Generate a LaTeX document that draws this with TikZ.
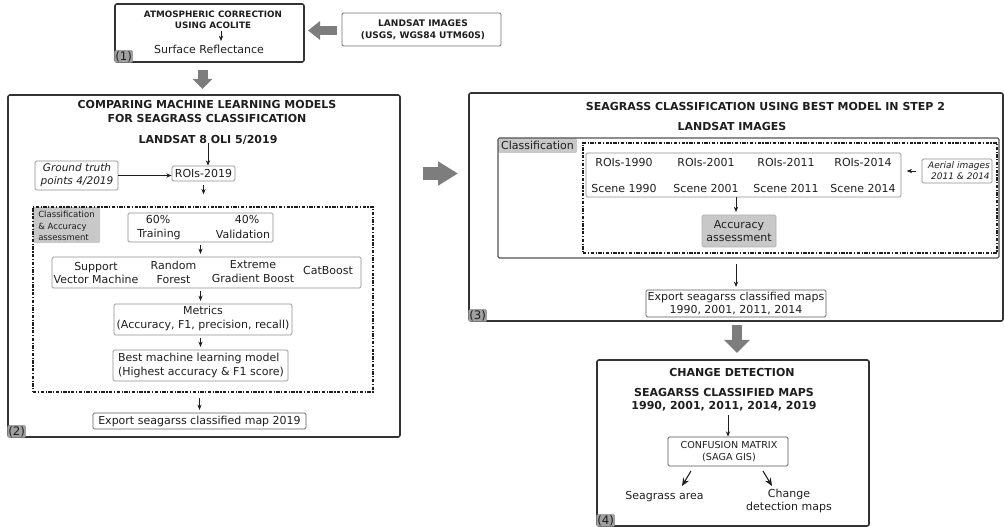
\documentclass[tikz,border=0pt]{standalone}
\usepackage{fontspec}
\setmainfont{DejaVu Sans}
\usetikzlibrary{arrows.meta,fit}

\definecolor{ink}{HTML}{1E1E1E}
\definecolor{frame}{HTML}{333333}
\definecolor{thin}{HTML}{8F8F8F}
\definecolor{shade}{HTML}{C8C8C8}
\definecolor{tag}{HTML}{A0A0A0}
\definecolor{bigarrow}{HTML}{7D7D7D}

\tikzset{
  outer/.style={draw=frame, line width=1.2pt, rounded corners=1.5pt, inner sep=0pt},
  inner/.style={draw=thin, line width=0.6pt, rounded corners=1pt, inner sep=0pt},
  darkbox/.style={draw=frame!85, line width=0.8pt, rounded corners=1pt, inner sep=0pt},
  dashdot/.style={draw=ink, line width=1.1pt, dash pattern=on 2.6pt off 1.1pt on 0.9pt off 1.1pt, inner sep=0pt},
  filled/.style={fill=shade, inner sep=0pt, rounded corners=1pt},
  txt/.style={font=\fontsize{8.25pt}{10.2pt}\selectfont, text=ink, inner sep=0pt, align=center},
  ital/.style={font=\fontsize{7.9pt}{9.9pt}\selectfont\itshape, text=ink, inner sep=0pt, align=center},
  ttl/.style={font=\fontsize{8.25pt}{9.8pt}\selectfont\bfseries, text=ink, inner sep=0pt, align=center},
  ttlsmall/.style={font=\fontsize{6.6pt}{8.3pt}\selectfont\bfseries, text=ink, inner sep=0pt, align=center},
  ttlmid/.style={font=\fontsize{6.8pt}{9pt}\selectfont\bfseries, text=ink, inner sep=0pt, align=center},
  lbl/.style={font=\fontsize{6.4pt}{8.6pt}\selectfont, text=ink, inner sep=0pt, align=left},
  cmtxt/.style={font=\fontsize{7.2pt}{8.5pt}\selectfont, text=ink, inner sep=0pt, align=center},
  aerial/.style={font=\fontsize{6.75pt}{8.3pt}\selectfont\itshape, text=ink, inner sep=0pt, align=right},
  steptag/.style={fill=tag, text=ink, font=\fontsize{8.8pt}{9.5pt}\selectfont, inner sep=0.7pt, rounded corners=1pt, anchor=south west},
  arr/.style={draw=ink, line width=0.55pt, -{Stealth[length=4pt, width=3.2pt]}},
  bigarr/.style={draw=ink, line width=0.8pt, -{Stealth[length=6pt, width=5pt]}},
}

\begin{document}
\begin{tikzpicture}[x=0.75pt, y=-0.75pt]
\useasboundingbox (0,0) rectangle (1004,527);

% ---------- step 1: atmospheric correction ----------
\node[outer, fit={(115,4) (304,62)}] (b1) {};
\node[ttlsmall] (atm) at (213,19.5) {ATMOSPHERIC CORRECTION\\USING ACOLITE};
\node[txt] (sr) at (209,49) {Surface Reflectance};
\coordinate (a1s) at (221,31);
\coordinate (a1e) at (221,41);
\draw[arr] (a1s) -- (a1e);
\node[steptag] (t1) at (b1.south west) {(1)};

\node[inner, draw=frame!70, line width=0.7pt, fit={(342,13) (501,46)}] (lsbox) {};
\node[ttlmid] (lsimg) at (423,29.5) {LANDSAT IMAGES\\(USGS, WGS84 UTM60S)};

% thick grey flow arrows between the steps
\coordinate (g1s) at (337,30.5);
\coordinate (g1e) at (308,30.5);
\draw[bigarrow, line width=6.75pt, -{Triangle[length=9pt, width=13.5pt]}] (g1s) -- (g1e);
\coordinate (g2s) at (202.5,70);
\coordinate (g2e) at (202.5,89);
\draw[bigarrow, line width=7.5pt, -{Triangle[length=7.5pt, width=14.25pt]}] (g2s) -- (g2e);
\coordinate (g3s) at (423,173.5);
\coordinate (g3e) at (458,173.5);
\draw[bigarrow, line width=9.75pt, -{Triangle[length=15pt, width=17.25pt]}] (g3s) -- (g3e);
\coordinate (g4s) at (737,325);
\coordinate (g4e) at (737,353);
\draw[bigarrow, line width=7.5pt, -{Triangle[length=9.75pt, width=18.75pt]}] (g4s) -- (g4e);

% ---------- step 2: model comparison ----------
\node[outer, fit={(8,95) (400,437)}] (b2) {};
\node[ttl] (cmp) at (207,111.5) {COMPARING MACHINE LEARNING MODELS\\FOR SEAGRASS CLASSIFICATION};
\node[ttl] (l8) at (208,140) {LANDSAT 8 OLI 5/2019};

\node[inner, fit={(35,161) (118,190)}] (gtbox) {};
\node[ital] (gt) at (77,175) {Ground truth\\points 4/2019};
\node[inner, fit={(172,166) (235,181)}] (roibox) {};
\node[txt] (roi) at (203.5,173.5) {ROIs-2019};

\draw[arr] (l8.south) ++(0,-2) -- (l8.south |- roibox.north);
\draw[arr] (gtbox.east) -- (gtbox.east -| roibox.west);

\node[filled, fit={(33,207) (100,243)}] (cllab) {};
\node[dashdot, fit={(33,207) (373,392)}] (dd2) {};
\node[lbl, anchor=west] (cltxt) at (38,226) {Classification\\\& Accuracy\\assessment};
\draw[arr, shorten <=3pt, shorten >=9pt] (roibox.south) -- (roibox.south |- dd2.north);

\node[inner, fit={(128,213) (273,242)}] (trbox) {};
\node[txt] (p60) at (158,219.5) {60\%};
\node[txt] (trn) at (159,234.5) {Training};
\node[txt] (p40) at (247,219.5) {40\%};
\node[txt] (val) at (243,234.5) {Validation};

\node[inner, fit={(52,257) (361,288)}] (mdbox) {};
\node[txt] (svm) at (96,273) {Support\\Vector Machine};
\node[txt] (rf) at (173.5,272.5) {Random\\Forest};
\node[txt] (xgb) at (253,271.5) {Extreme\\Gradient Boost};
\node[txt] (cat) at (328,270) {CatBoost};

\node[inner, fit={(114,304) (292,335)}] (mtbox) {};
\node[txt] (mt) at (203,318.5) {Metrics\\(Accuracy, F1, precision, recall)};

\node[inner, fit={(113,350) (288,381)}] (bsbox) {};
\node[txt, align=left] (bs) at (201,365.5) {Best machine learning model\\(Highest accuracy \& F1 score)};

\node[inner, draw=frame!80, fit={(93,413) (306,429)}] (exbox) {};
\node[txt] (ex) at (199.5,421.5) {Export seagarss classified map 2019};

\draw[arr, shorten <=2pt, shorten >=2pt] (trbox.south) -- (trbox.south |- mdbox.north);
\draw[arr, shorten <=2pt, shorten >=2pt] (trbox.south |- mdbox.south) -- (trbox.south |- mtbox.north);
\draw[arr, shorten <=2pt, shorten >=2pt] (trbox.south |- mtbox.south) -- (trbox.south |- bsbox.north);
\draw[arr, shorten <=4pt, shorten >=2pt] (exbox.north |- dd2.south) -- (exbox.north);
\node[steptag] (t2) at (b2.south west) {(2)};

% ---------- step 3: classification of all years ----------
\node[outer, fit={(469,93) (1003,321)}] (b3) {};
\node[ttl] (s3t) at (765.5,106) {SEAGRASS CLASSIFICATION USING BEST MODEL IN STEP 2};
\node[ttl] (s3l) at (732,126) {LANDSAT IMAGES};

\node[filled, fit={(498,138) (577,153)}] (cl3lab) {};
\node[txt] (cl3) at (537.5,145.5) {Classification};
\node[darkbox, fit={(498,138) (999,258)}] (in3) {};
\node[dashdot, fit={(583,143) (997,253)}] (dd3) {};

\node[inner, fit={(586,153) (901,197)}] (scbox) {};
\node[txt] (r90) at (624,162) {ROIs-1990};
\node[txt] (r01) at (706,162) {ROIs-2001};
\node[txt] (r11) at (786,162) {ROIs-2011};
\node[txt] (r14) at (863,162) {ROIs-2014};
\node[txt] (s90) at (624,188) {Scene 1990};
\node[txt] (s01) at (706,188) {Scene 2001};
\node[txt] (s11) at (786,188) {Scene 2011};
\node[txt] (s14) at (863,188) {Scene 2014};

\node[inner, fit={(922,159) (992,183)}] (aebox) {};
\node[aerial, anchor=east] (ae) at (990,171) {Aerial images\\2011 \& 2014};
\draw[arr, shorten <=4pt, shorten >=4pt] (aebox.west) -- (aebox.west -| scbox.east);

\node[filled, draw=thin!70, line width=0.5pt, fit={(702,215) (776,247)}] (acbox) {};
\node[txt] (ac) at (739,231) {Accuracy\\assessment};
\draw[arr, shorten >=2pt] (scbox.south -| 736,0) -- (acbox.north -| 736,0);

\node[inner, draw=frame!80, fit={(646,290) (826,317)}] (exmbox) {};
\node[txt] (exm) at (736,303.5) {Export seagarss classified maps\\1990, 2001, 2011, 2014};
\draw[arr, shorten <=4pt, shorten >=2pt] (exmbox.north |- in3.south) -- (exmbox.north);
\node[steptag] (t3) at (b3.south west) {(3)};

% ---------- step 4: change detection ----------
\node[outer, fit={(597,360) (869,526)}] (b4) {};
\node[ttl] (cd) at (732,372) {CHANGE DETECTION};
\node[ttl] (maps) at (724,399.5) {SEAGARSS CLASSIFIED MAPS\\1990, 2001, 2011, 2014, 2019};

\node[inner, draw=frame!85, fit={(668,437) (788,466)}] (cfbox) {};
\node[cmtxt] (cf) at (729,451.5) {CONFUSION MATRIX\\(SAGA GIS)};
\draw[arr, shorten <=3pt] (cfbox.north |- maps.south) -- (cfbox.north);

\coordinate (d1s) at (691,471);
\coordinate (d1e) at (682,486);
\coordinate (d2s) at (763,471);
\coordinate (d2e) at (772,486);
\draw[bigarr] (d1s) -- (d1e);
\draw[bigarr] (d2s) -- (d2e);

\node[txt] (sa) at (664.5,497) {Seagrass area};
\node[txt] (cdm) at (789,501) {Change\\detection maps};
\node[steptag] (t4) at (b4.south west) {(4)};
\end{tikzpicture}
\end{document}
